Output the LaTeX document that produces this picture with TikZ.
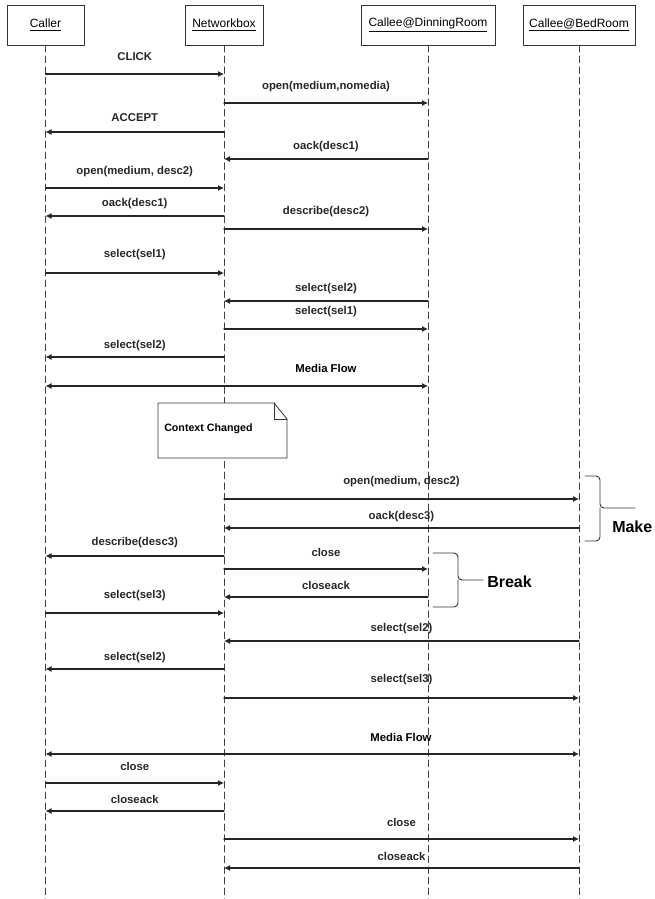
\documentclass[tikz,border=0pt]{standalone}
\usepackage{fontspec}
\setmainfont{Liberation Sans}
\usetikzlibrary{arrows.meta}

\begin{document}
\begin{tikzpicture}[x=0.75pt,y=-0.75pt,>={Latex[length=4.5pt,width=4.5pt]},line cap=round,
		head/.style={draw=black!80,line width=0.6pt,minimum height=30pt,font=\fontsize{9}{10}\selectfont},
		life/.style={black!75,line width=0.6pt,dash pattern=on 5pt off 3pt},
		msg/.style={black!85,line width=0.8pt},
		lbl/.style={font=\fontsize{8.5}{10}\bfseries\selectfont,inner sep=0pt},
		big/.style={font=\fontsize{12}{14}\bfseries\selectfont,inner sep=0pt,anchor=west}]
		\useasboundingbox (0,0) rectangle (654,899);
		% lifelines
		\foreach \N/\X/\W/\T in {c/45.5/77/Caller,n/224/78/Networkbox,d/428/134/Callee@DinningRoom,b/579/112/Callee@BedRoom}
		{\node[head,minimum width=\W*0.75pt] (\N) at (\X,25) {\underline{\T}};
			\coordinate (\N-end) at (\X,899);
			\draw[life] (\N) -- (\N-end);}
		% messages
		\foreach \ly/\ay/\A/\B/\T [count=\Y] in {57/74/c/n/{CLICK},87/103/n/d/{open(medium,nomedia)},
			118/132/n/c/{ACCEPT},147/159/d/n/{oack(desc1)},172/188/c/n/{open(medium, desc2)},
			204/216/n/c/{oack(desc1)},212/229/n/d/{describe(desc2)},255/273/c/n/{select(sel1)},
			289/301/d/n/{select(sel2)},312/329/n/d/{select(sel1)},346/357/n/c/{select(sel2)},
			482/499/n/b/{open(medium, desc2)},517/528/b/n/{oack(desc3)},543/556/n/c/{describe(desc3)},
			552/569/n/d/{close},585/597/d/n/{closeack},596/613/c/n/{select(sel3)},
			629/641/b/n/{select(sel2)},658/669/n/c/{select(sel2)},680/698/n/b/{select(sel3)},
			766/783/c/n/{close},799/811/n/c/{closeack},822/839/n/b/{close},856/868/b/n/{closeack}}
		{\draw[msg,->] (\A |- 0,\ay) -- (\B |- 0,\ay)
			node[lbl,midway,yshift={(\ay-\ly)*0.75pt}] (m\Y) {\T};}
		\draw[msg,<->] (c |- 0,386) -- (d |- 0,386);
		\node[lbl] (flow1) at (326,368) {Media Flow};
		\draw[msg,<->] (c |- 0,754) -- (b |- 0,754);
		\node[lbl] (flow2) at (401,737) {Media Flow};
		% note
		\draw[black!80,line width=0.6pt,fill=white] (158,403) -- (274,403) -- (287,419) -- (287,458) -- (158,458) -- cycle;
		\draw[black!80,line width=0.6pt] (274,403) |- (287,419);
		\node[lbl,font=\fontsize{8}{10}\bfseries\selectfont,anchor=west] (note) at (164,429) {Context Changed};
		% braces
		\draw[black!80,line width=0.7pt,rounded corners=3pt] (585,476) -| (600,508) -- (635,508) (600,508) |- (585,541);
		\node[big] (make) at (612,527) {Make};
		\draw[black!80,line width=0.7pt,rounded corners=3pt] (433,553) -| (458,580) -- (483,580) (458,580) |- (433,607);
		\node[big] (break) at (487,582) {Break};
		\end{tikzpicture}
\end{document}
